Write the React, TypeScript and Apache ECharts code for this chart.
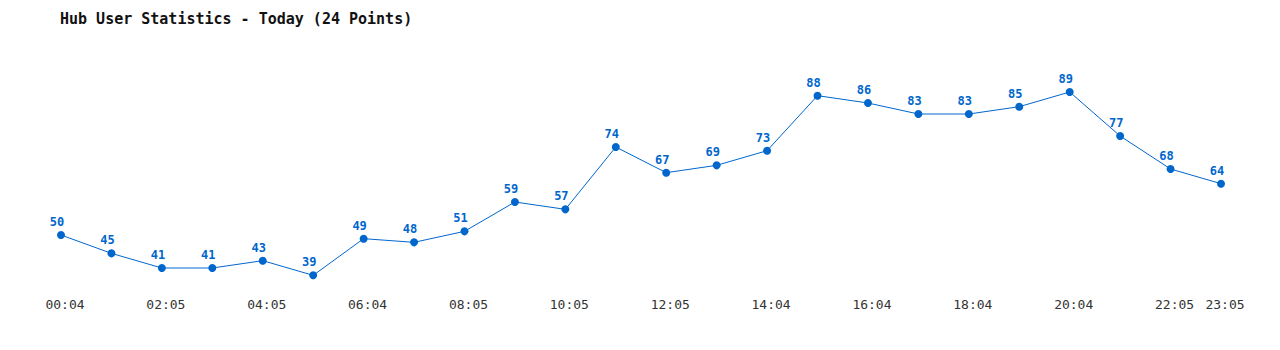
import React, { useEffect, useRef } from "react";
import * as echarts from "echarts";

const times = [
  "00:04", "01:04", "02:05", "03:05", "04:05", "05:04", "06:04", "07:05",
  "08:05", "09:04", "10:05", "11:05", "12:05", "13:04", "14:04", "15:05",
  "16:04", "17:05", "18:04", "19:05", "20:04", "21:05", "22:05", "23:05",
];
const users = [
  50, 45, 41, 41, 43, 39, 49, 48, 51, 59, 57, 74,
  67, 69, 73, 88, 86, 83, 83, 85, 89, 77, 68, 64,
];
const titleText = "Hub User Statistics - Today (24 Points)";

export default function App() {
  const ref = useRef<HTMLDivElement>(null);
  useEffect(() => {
    if (!ref.current) return;
    const chart = echarts.init(ref.current, undefined, { renderer: "svg" });
    const mono = "'DejaVu Sans Mono', monospace";
    const blue = "#0066cc";
    chart.setOption({
      animation: false,
      backgroundColor: "#ffffff",
      title: {
        text: titleText,
        left: 55,
        top: 6,
        textStyle: { fontFamily: mono, fontSize: 15, fontWeight: "bold", color: "#111" },
      },
      grid: { left: 61, right: 59, top: 51.67, bottom: 60 },
      xAxis: {
        type: "category",
        data: times,
        boundaryGap: false,
        axisLine: { show: false },
        axisTick: { show: false },
        splitLine: { show: false },
        axisLabel: {
          interval: (i: number) => i % 2 === 0 || i === times.length - 1,
          fontFamily: mono,
          fontSize: 13,
          color: "#333",
          margin: 8,
          padding: [0, 0, 0, 8],
        },
      },
      yAxis: {
        type: "value",
        min: 35,
        max: 100,
        show: false,
        splitLine: { show: false },
      },
      series: [
        {
          type: "line",
          data: users,
          symbol: "circle",
          symbolSize: 8,
          lineStyle: { color: blue, width: 1 },
          itemStyle: { color: blue },
          label: {
            show: true,
            position: "top",
            distance: 3,
            padding: [0, 8, 0, 0],
            fontFamily: mono,
            fontSize: 12,
            fontWeight: "bold",
            color: blue,
          },
        },
      ],
    });
    return () => chart.dispose();
  }, []);
  return (
    <div
      ref={ref}
      style={{ position: "absolute", left: 0, top: 0, width: 1280, height: 350 }}
    />
  );
}
